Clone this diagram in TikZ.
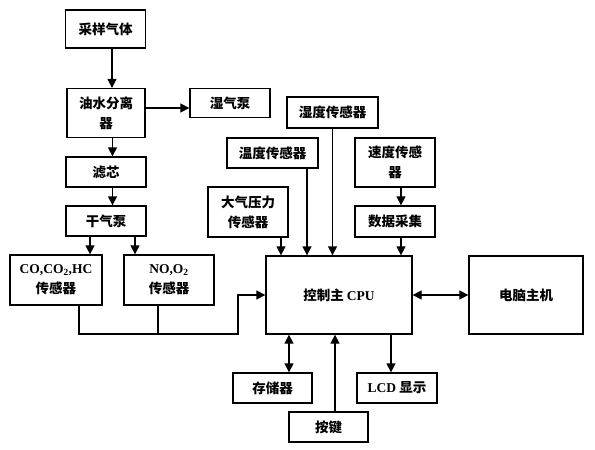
\documentclass[tikz,border=0pt]{standalone}
\usepackage{fontspec}
\setmainfont{Liberation Serif}
\newfontfamily\cjk{Noto Sans CJK SC}
\usetikzlibrary{arrows.meta}
\newcommand{\lat}[1]{{\rmfamily\bfseries #1}}
\tikzset{
	blockbox/.style={draw, line width=1.3pt, align=center, inner sep=0pt,
		font=\cjk\bfseries\fontsize{13.5}{20}\selectfont},
	flow/.style={line width=1.3pt, -{Triangle[width=9pt,length=9pt]}},
	twoway/.style={line width=1.3pt, {Triangle[width=9pt,length=9pt]}-{Triangle[width=9pt,length=9pt]}}
}
\begin{document}
\begin{tikzpicture}[x=1pt,y=-1pt]
	\useasboundingbox (0,0) rectangle (595,450);
	
	\node[blockbox, minimum width=80pt, minimum height=38pt] (sample) at (105.5,29) {采样气体};
	\node[blockbox, minimum width=78pt, minimum height=49pt] (separator) at (106,113) {油水分离\\器};
	\node[blockbox, minimum width=80pt, minimum height=29pt] (wetpump) at (230,103) {湿气泵};
	\node[blockbox, minimum width=80pt, minimum height=30pt] (filter) at (106,172) {滤芯};
	\node[blockbox, minimum width=80pt, minimum height=30pt] (drypump) at (106,221) {干气泵};
	\node[blockbox, minimum width=92pt, minimum height=50pt] (cosensor) at (56,280) {\lat{CO,CO\textsubscript{2},HC}\\传感器};
	\node[blockbox, minimum width=90pt, minimum height=50pt] (nosensor) at (169,280) {\lat{NO,O\textsubscript{2}}\\传感器};
	
	\node[blockbox, minimum width=146pt, minimum height=78pt] (cpu) at (339,295) {控制主 \lat{CPU}};
	\node[blockbox, minimum width=114pt, minimum height=78pt] (pc) at (526,295) {电脑主机};
	
	\node[blockbox, minimum width=91pt, minimum height=31pt] (humid) at (332.5,112.5) {湿度传感器};
	\node[blockbox, minimum width=91pt, minimum height=30pt] (temp) at (272.5,153) {温度传感器};
	\node[blockbox, minimum width=80pt, minimum height=50pt] (pressure) at (248,212) {大气压力\\传感器};
	\node[blockbox, minimum width=80pt, minimum height=49pt] (speed) at (395,162.5) {速度传感\\器};
	\node[blockbox, minimum width=80pt, minimum height=31pt] (daq) at (395,221.5) {数据采集};
	
	\node[blockbox, minimum width=79pt, minimum height=30pt] (memory) at (272.5,388) {存储器};
	\node[blockbox, minimum width=80pt, minimum height=30pt] (lcd) at (397,388) {\lat{LCD} 显示};
	\node[blockbox, minimum width=79pt, minimum height=30pt] (keys) at (328.5,427) {按键};
	
	% gas path
	\draw[flow] ([xshift=6.5pt]sample.south) -- ([xshift=6.5pt]sample.south |- separator.north);
	\draw[flow] ([yshift=5pt]separator.east) -- ([yshift=5pt]separator.east -| wetpump.west);
	\draw[flow] ([xshift=6.5pt]separator.south) -- ([xshift=6.5pt]separator.south |- filter.north);
	\draw[flow] ([xshift=6.5pt]filter.south) -- ([xshift=6.5pt]filter.south |- drypump.north);
	\draw[flow] ([xshift=-16pt]drypump.south) -- ([xshift=-16pt]drypump.south |- cosensor.north);
	\draw[flow] ([xshift=29pt]drypump.south) -- ([xshift=29pt]drypump.south |- nosensor.north);
	
	\coordinate (bend) at (238,334);
	\draw[flow] ([xshift=23pt]cosensor.south) |- (bend) |- (cpu.west);
	\draw[line width=1.3pt] ([xshift=-11pt]nosensor.south) -- ([xshift=-11pt]nosensor.south |- bend);
	
	% sensors into cpu
	\draw[flow] ([xshift=33pt]pressure.south) -- ([xshift=33pt]pressure.south |- cpu.north);
	\draw[flow] ([xshift=34.5pt]temp.south) -- ([xshift=34.5pt]temp.south |- cpu.north);
	\draw[flow] (humid.south) -- (humid.south |- cpu.north);
	\draw[flow] ([xshift=6pt]speed.south) -- ([xshift=6pt]daq.north);
	\draw[flow] ([xshift=6pt]daq.south) -- ([xshift=6pt]daq.south |- cpu.north);
	
	\draw[twoway] (cpu) -- (pc);
	\draw[twoway] ([xshift=16.5pt]memory.north |- cpu.south) -- ([xshift=16.5pt]memory.north);
	\draw[flow] ([xshift=6.5pt]keys.north) -- ([xshift=6.5pt]keys.north |- cpu.south);
	\draw[flow] ([xshift=-6pt]lcd.north |- cpu.south) -- ([xshift=-6pt]lcd.north);
\end{tikzpicture}
\end{document}
